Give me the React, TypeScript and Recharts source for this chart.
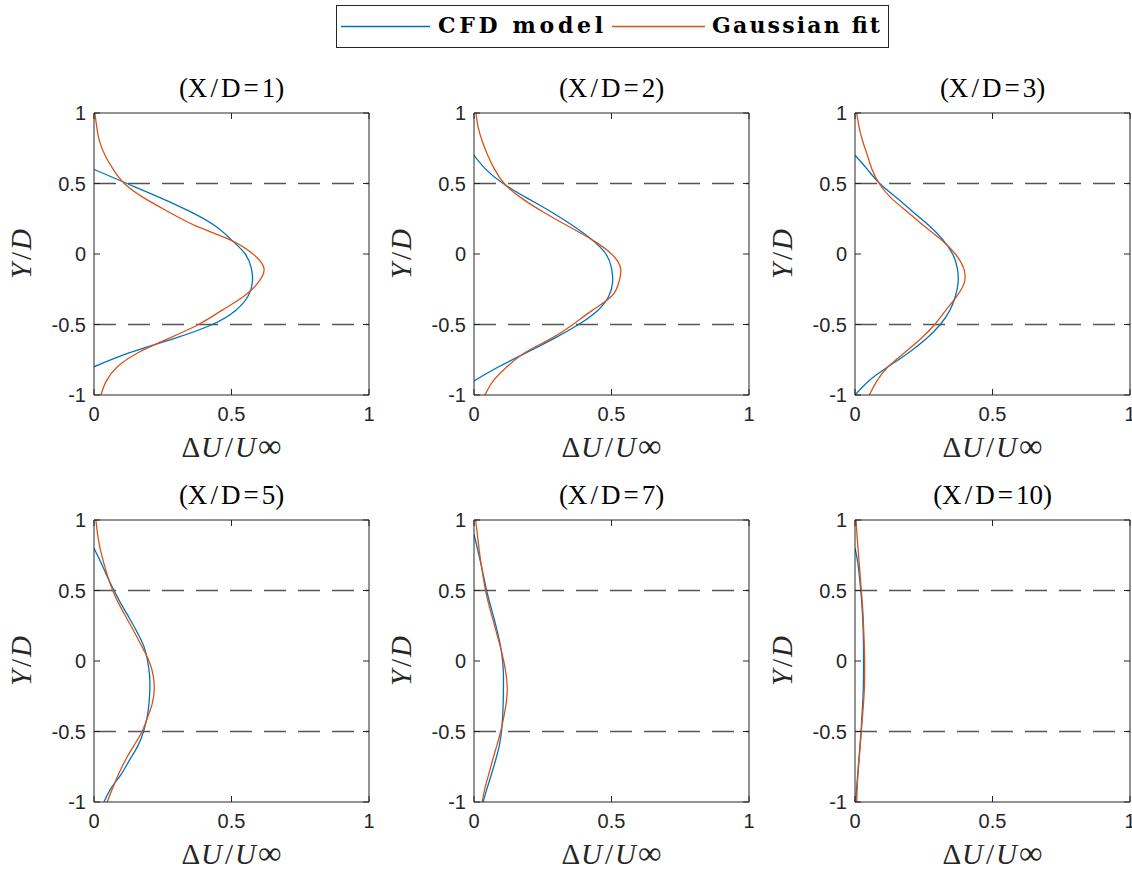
import { ComposedChart, Line, XAxis, YAxis, ReferenceLine, Label } from "recharts";

// Y/D stations shared by every profile (top to bottom)
const yOverD = [1, 0.9, 0.8, 0.7, 0.6, 0.5, 0.4, 0.3, 0.2, 0.1, 0, -0.1, -0.2, -0.3, -0.4, -0.5, -0.6, -0.7, -0.8, -0.9, -1];

// velocity deficit ΔU/U∞ at each station; null where the CFD profile is not defined
const cfdXD1 = [null, null, null, null, 0, 0.12, 0.24, 0.35, 0.44, 0.5, 0.55, 0.572, 0.576, 0.56, 0.515, 0.43, 0.29, 0.13, 0, null, null];
const gaussXD1 = [0.003, 0.01, 0.02, 0.04, 0.07, 0.11, 0.18, 0.27, 0.37, 0.495, 0.578, 0.618, 0.598, 0.545, 0.465, 0.38, 0.27, 0.16, 0.085, 0.045, 0.025];

const cfdXD2 = [null, null, null, 0, 0.043, 0.106, 0.19, 0.28, 0.36, 0.43, 0.48, 0.5, 0.504, 0.49, 0.45, 0.38, 0.29, 0.19, 0.09, 0, null];
const gaussXD2 = [0.007, 0.015, 0.03, 0.05, 0.075, 0.11, 0.17, 0.25, 0.34, 0.43, 0.5, 0.533, 0.527, 0.5, 0.43, 0.36, 0.28, 0.185, 0.12, 0.07, 0.04];

const cfdXD3 = [null, null, null, 0, 0.045, 0.09, 0.15, 0.21, 0.27, 0.32, 0.355, 0.372, 0.375, 0.365, 0.345, 0.31, 0.26, 0.195, 0.12, 0.05, 0];
const gaussXD3 = [0.006, 0.015, 0.028, 0.045, 0.062, 0.088, 0.13, 0.19, 0.25, 0.315, 0.365, 0.395, 0.398, 0.37, 0.33, 0.29, 0.24, 0.18, 0.12, 0.08, 0.052];

const cfdXD5 = [null, null, 0, 0.025, 0.048, 0.073, 0.1, 0.13, 0.158, 0.182, 0.195, 0.202, 0.203, 0.2, 0.193, 0.18, 0.16, 0.13, 0.1, 0.063, 0.036];
const gaussXD5 = [0.007, 0.013, 0.022, 0.035, 0.05, 0.068, 0.092, 0.12, 0.148, 0.175, 0.2, 0.215, 0.219, 0.212, 0.195, 0.175, 0.145, 0.115, 0.09, 0.068, 0.048];

const cfdXD7 = [null, 0, 0.012, 0.024, 0.035, 0.046, 0.059, 0.073, 0.086, 0.097, 0.104, 0.107, 0.107, 0.106, 0.104, 0.1, 0.092, 0.079, 0.064, 0.048, 0.033];
const gaussXD7 = [0.006, 0.012, 0.018, 0.025, 0.033, 0.042, 0.054, 0.068, 0.082, 0.096, 0.108, 0.117, 0.121, 0.117, 0.108, 0.097, 0.083, 0.068, 0.054, 0.04, 0.03];

const cfdXD10 = [null, null, 0, 0.01, 0.016, 0.021, 0.025, 0.028, 0.03, 0.031, 0.031, 0.031, 0.03, 0.028, 0.025, 0.022, 0.018, 0.014, 0.01, 0.006, 0.003];
const gaussXD10 = [0.004, 0.007, 0.011, 0.015, 0.019, 0.023, 0.027, 0.03, 0.032, 0.034, 0.035, 0.035, 0.034, 0.031, 0.027, 0.023, 0.019, 0.015, 0.011, 0.008, 0.006];

const stations = ["1", "2", "3", "5", "7", "10"];
const cfdSets = [cfdXD1, cfdXD2, cfdXD3, cfdXD5, cfdXD7, cfdXD10];
const gaussSets = [gaussXD1, gaussXD2, gaussXD3, gaussXD5, gaussXD7, gaussXD10];
const seriesNames = ["CFD model", "Gaussian fit"];

const xTicks = [0, 0.5, 1];
const yTicks = [-1, -0.5, 0, 0.5, 1];

const BLUE = "#0072BD";
const ORANGE = "#D95319";
const AX = "#262626";
const SERIF = "'Liberation Serif', 'Times New Roman', serif";
const SANS = "'Liberation Sans', Arial, Helvetica, sans-serif";
const BOLD_SERIF = "'DejaVu Serif', 'Liberation Serif', serif";

// axes box geometry (px)
const PLOT_W = 275;
const PLOT_H = 282;
const PAD_L = 90;
const PAD_T = 45;
const PAD_R = 10;
const PAD_B = 75;
const colLeft = [94, 474, 855];
const rowTop = [113, 520];

const tickFont = { fill: AX, fontSize: 20, fontFamily: SANS };

function XLabel() {
  return (
    <text x={PAD_L + PLOT_W / 2} y={PAD_T + PLOT_H + 62} textAnchor="middle" fontFamily={SERIF} fontSize={29} fill={AX}>
      <tspan>Δ</tspan>
      <tspan dx={1} fontStyle="italic">U</tspan>
      <tspan dx={3}>/</tspan>
      <tspan dx={2} fontStyle="italic">U</tspan>
      <tspan dx={2} fontSize={33}>∞</tspan>
    </text>
  );
}

// y label plus the panel title, both placed relative to the axes box
function SideText({ station }: { station: string }) {
  const cx = 27;
  const cy = PAD_T + PLOT_H / 2;
  return (
    <g>
      <text x={cx} y={cy} transform={`rotate(-90 ${cx} ${cy})`} textAnchor="middle" fontFamily={SERIF} fontSize={29} fill={AX}>
        <tspan fontStyle="italic">Y</tspan>
        <tspan dx={3}>/</tspan>
        <tspan dx={2} fontStyle="italic">D</tspan>
      </text>
      <text x={PAD_L + PLOT_W / 2} y={PAD_T - 16} textAnchor="middle" fontFamily={SERIF} fontSize={27} fill="#000">
        <tspan>(X</tspan>
        <tspan dx={3}>/</tspan>
        <tspan dx={3}>D</tspan>
        <tspan dx={3}>=</tspan>
        <tspan dx={3}>{station})</tspan>
      </text>
    </g>
  );
}

function Panel({ idx }: { idx: number }) {
  const cfd = cfdSets[idx];
  const gauss = gaussSets[idx];
  const rows = yOverD.map((y, i) => ({ y, cfd: cfd[i], gauss: gauss[i] }));
  const left = colLeft[idx % 3];
  const top = rowTop[Math.floor(idx / 3)];
  return (
    <div style={{ position: "absolute", left: left - PAD_L, top: top - PAD_T }}>
      <ComposedChart
        width={PAD_L + PLOT_W + PAD_R}
        height={PAD_T + PLOT_H + PAD_B}
        layout="vertical"
        data={rows}
        margin={{ top: PAD_T - 1, right: PAD_R - 1, bottom: 0, left: 0 }}
      >
        <XAxis
          type="number"
          domain={[0, 1]}
          ticks={xTicks}
          interval={0}
          allowDataOverflow
          height={PAD_B}
          tickSize={-6}
          tickMargin={18}
          tick={tickFont}
          axisLine={{ stroke: AX }}
          tickLine={{ stroke: AX }}
        >
          <Label content={() => <XLabel />} />
        </XAxis>
        <XAxis
          xAxisId="top"
          orientation="top"
          type="number"
          domain={[0, 1]}
          ticks={xTicks}
          interval={0}
          allowDataOverflow
          height={1}
          tickSize={-6}
          tickFormatter={() => ""}
          axisLine={{ stroke: AX }}
          tickLine={{ stroke: AX }}
        />
        <YAxis
          type="number"
          dataKey="y"
          domain={[-1, 1]}
          ticks={yTicks}
          interval={0}
          reversed
          allowDataOverflow
          width={PAD_L}
          tickSize={-6}
          tickMargin={14}
          tick={tickFont}
          axisLine={{ stroke: AX }}
          tickLine={{ stroke: AX }}
        >
          <Label content={() => <SideText station={stations[idx]} />} />
        </YAxis>
        <YAxis
          yAxisId="right"
          orientation="right"
          type="number"
          dataKey="y"
          domain={[-1, 1]}
          ticks={yTicks}
          interval={0}
          reversed
          allowDataOverflow
          width={1}
          tickSize={-6}
          tickFormatter={() => ""}
          axisLine={{ stroke: AX }}
          tickLine={{ stroke: AX }}
        />
        <ReferenceLine y={0.5} stroke="#555" strokeWidth={1.4} strokeDasharray="22 12" />
        <ReferenceLine y={-0.5} stroke="#555" strokeWidth={1.4} strokeDasharray="22 12" />
        <Line dataKey="cfd" name={seriesNames[0]} type="natural" stroke={BLUE} strokeWidth={1.3} dot={false} isAnimationActive={false} />
        <Line dataKey="gauss" name={seriesNames[1]} type="natural" xAxisId="top" yAxisId="right" stroke={ORANGE} strokeWidth={1.3} dot={false} isAnimationActive={false} />
      </ComposedChart>
    </div>
  );
}

function LegendBox() {
  return (
    <svg width={1132} height={60} style={{ position: "absolute", left: 0, top: 0 }}>
      <rect x={336.5} y={5.5} width={552} height={42} fill="#fff" stroke={AX} strokeWidth={1} />
      <line x1={341} x2={430} y1={26.5} y2={26.5} stroke={BLUE} strokeWidth={1.3} />
      <text x={438} y={33} fontFamily={BOLD_SERIF} fontWeight="bold" fontSize={22} fill="#000" textLength={165} lengthAdjust="spacing">
        {seriesNames[0]}
      </text>
      <line x1={612} x2={705} y1={26.5} y2={26.5} stroke={ORANGE} strokeWidth={1.3} />
      <text x={712} y={33} fontFamily={BOLD_SERIF} fontWeight="bold" fontSize={22} fill="#000" textLength={168} lengthAdjust="spacing">
        {seriesNames[1]}
      </text>
    </svg>
  );
}

export default function App() {
  return (
    <div style={{ position: "absolute", left: 0, top: 0, width: 1132, height: 875, background: "#fff" }}>
      {stations.map((_, i) => (
        <Panel key={i} idx={i} />
      ))}
      <LegendBox />
    </div>
  );
}
